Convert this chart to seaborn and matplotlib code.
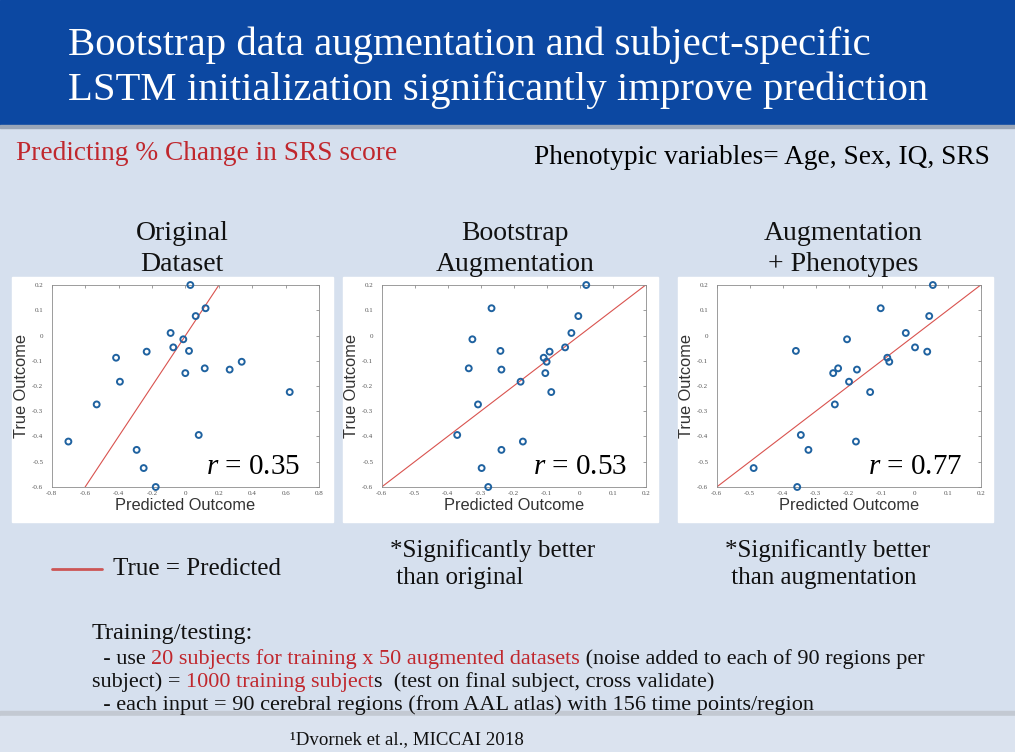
import numpy as np
import matplotlib
matplotlib.use("Agg")
import matplotlib.pyplot as plt
from matplotlib.patches import Rectangle
from matplotlib.ticker import FuncFormatter
import pandas as pd
import seaborn as sns

# true outcome is shared by the three panels
true_outcome = [0.200, 0.108, 0.077, 0.010, -0.015, -0.047, -0.061, -0.064, -0.088, -0.104, -0.130,
                -0.135, -0.149, -0.183, -0.224, -0.273, -0.394, -0.420, -0.453, -0.525, -0.600]
pred_original = [0.029, 0.120, 0.061, -0.089, -0.013, -0.073, 0.021, -0.232, -0.415, 0.336, 0.115,
                 0.264, -0.001, -0.392, 0.623, -0.531, 0.079, -0.700, -0.292, -0.250, -0.178]
pred_bootstrap = [0.020, -0.267, -0.004, -0.025, -0.325, -0.044, -0.240, -0.091, -0.109, -0.100, -0.336,
                  -0.237, -0.104, -0.179, -0.086, -0.308, -0.371, -0.172, -0.237, -0.297, -0.277]
pred_pheno = [0.055, -0.103, 0.044, -0.027, -0.205, 0.001, -0.360, 0.038, -0.083, -0.077, -0.232,
              -0.175, -0.247, -0.199, -0.135, -0.242, -0.345, -0.178, -0.322, -0.488, -0.356]

panel_titles = ["Original\nDataset", "Bootstrap\nAugmentation", "Augmentation\n+ Phenotypes"]
r_values = ["0.35", "0.53", "0.77"]
xlims = [(-0.8, 0.8), (-0.6, 0.2), (-0.6, 0.2)]
xsteps = [0.2, 0.1, 0.1]
identity = [-0.6, 0.2]

sns.set_style("white")
plt.rcParams['font.family'] = ['Liberation Serif', 'DejaVu Serif']
plt.rcParams['axes.unicode_minus'] = False
plt.rcParams['mathtext.fontset'] = 'custom'
plt.rcParams['mathtext.it'] = 'Liberation Serif:italic'
plt.rcParams['mathtext.rm'] = 'Liberation Serif'

BG = "#d6e0ee"
BLUE = "#0c48a2"
RED = "#c0272d"
INK = "#111111"

fig = plt.figure(figsize=(10.15, 7.52), dpi=100, facecolor=BG)
bg = fig.add_axes([0, 0, 1, 1], zorder=0)
bg.set_xlim(0, 1015)
bg.set_ylim(752, 0)
bg.axis("off")

# banner, separators, footer
bg.add_patch(Rectangle((0, 0), 1015, 125, color=BLUE))
bg.add_patch(Rectangle((0, 125), 1015, 3, color="#9aa6b8"))
bg.add_patch(Rectangle((0, 711), 1015, 5, color="#c3c9d2"))
bg.add_patch(Rectangle((0, 716), 1015, 36, color="#dbe3ef"))

bg.text(68, 45, "Bootstrap data augmentation and subject-specific", color="white",
        fontsize=29.3, va="center", ha="left")
bg.text(68, 90, "LSTM initialization significantly improve prediction", color="white",
        fontsize=29.3, va="center", ha="left")

bg.text(16, 153, "Predicting % Change in SRS score", color=RED, fontsize=19.7, va="center")
bg.text(990, 157, "Phenotypic variables= Age, Sex, IQ, SRS", color="black", fontsize=19.7,
        va="center", ha="right")

# white panels behind the plots
for x0, x1 in [(12, 333), (343, 658), (678, 993)]:
    bg.add_patch(Rectangle((x0, 277), x1 - x0, 245, color="white"))

title_x = [182, 515, 843]
for tx, t in zip(title_x, panel_titles):
    bg.text(tx, 249, t, fontsize=20, ha="center", va="center", linespacing=1.3, color=INK)

axes_pos = [[0.0509, 0.3524, 0.2637, 0.2686],
            [0.3760, 0.3524, 0.2601, 0.2686],
            [0.7061, 0.3524, 0.2601, 0.2686]]
preds = [pred_original, pred_bootstrap, pred_pheno]

fmt = FuncFormatter(lambda v, p: f"{round(v, 2) + 0.0:g}")

for i in range(3):
    ax = fig.add_axes(axes_pos[i], zorder=2)
    df = pd.DataFrame({"pred": preds[i], "true": true_outcome})
    sns.lineplot(x=identity, y=identity, ax=ax, color="#d9534f", linewidth=0.8)
    sns.scatterplot(data=df, x="pred", y="true", ax=ax, marker="o", s=18,
                    facecolor="none", edgecolor="#1f62a0", linewidth=1.4, clip_on=False, zorder=3)
    ax.set_xlim(*xlims[i])
    ax.set_ylim(-0.6, 0.2)
    ax.set_xticks(np.arange(xlims[i][0], xlims[i][1] + 1e-9, xsteps[i]))
    ax.set_yticks(np.arange(-0.6, 0.2 + 1e-9, 0.1))
    ax.xaxis.set_major_formatter(fmt)
    ax.yaxis.set_major_formatter(fmt)
    ax.tick_params(direction="in", length=2.5, width=0.5, colors="#777777", labelsize=5,
                   labelcolor="#555555", top=True, right=True)
    ax.tick_params(axis="x", pad=3)
    ax.tick_params(axis="y", pad=6)
    for s in ax.spines.values():
        s.set_color("#8c8c8c")
        s.set_linewidth(0.6)
    ax.set_xlabel("Predicted Outcome", family="Liberation Sans", fontsize=11.8, color="#333333", labelpad=1)
    ax.set_ylabel("True Outcome", family="Liberation Sans", fontsize=11.8, color="#333333", labelpad=2)
    ax.text(0.93, 0.1, r"$r$ = " + r_values[i], transform=ax.transAxes, fontsize=21,
            ha="right", va="center", color="black")

# legend-like annotation
bg.plot([52, 102], [569, 569], color="#cc5555", linewidth=2)
bg.text(113, 569, "True = Predicted", fontsize=18, va="center", color=INK)

bg.text(390, 564, "*Significantly better\n than original", fontsize=18, va="center",
        linespacing=1.25, color=INK)
bg.text(725, 564, "*Significantly better\n than augmentation", fontsize=18, va="center",
        linespacing=1.25, color=INK)

# training details, with red highlights
def chain(pieces, x, y, size=16):
    t = bg.text(x, y, pieces[0][0], color=pieces[0][1], fontsize=size, va="bottom", ha="left")
    for txt, col in pieces[1:]:
        t = bg.annotate(txt, xy=(1, 0), xycoords=t, color=col, fontsize=size, va="bottom", ha="left")
    return t

bg.text(92, 633, "Training/testing:", fontsize=17.5, va="center", color=INK)
chain([("  - use ", INK), ("20 subjects for training x 50 augmented datasets", RED),
       (" (noise added to each of 90 regions per", INK)], 92, 669)
chain([("subject) = ", INK), ("1000 training subject", RED),
       ("s  (test on final subject, cross validate)", INK)], 92, 692)
chain([("  - each input = 90 cerebral regions (from AAL atlas) with 156 time points/region", INK)],
      92, 715)

bg.text(290, 740, "\u00b9Dvornek et al., MICCAI 2018", fontsize=13.6, va="center", color=INK)

plt.savefig("out.png", dpi=100, facecolor=BG)
